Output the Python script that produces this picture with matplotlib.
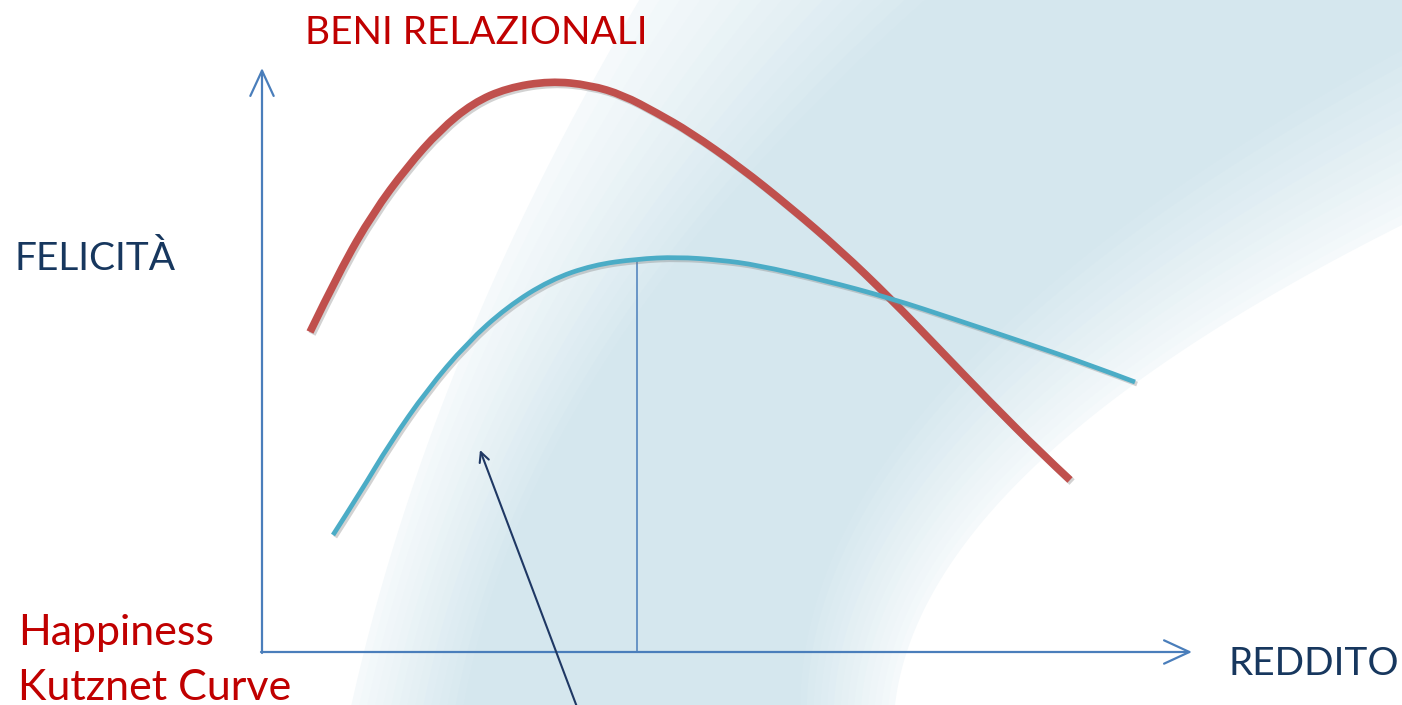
import numpy as np
import matplotlib.pyplot as plt
import matplotlib.patheffects as pe
from matplotlib.path import Path
from matplotlib.patches import PathPatch

# Curve "BENI RELAZIONALI" (rossa)
red_x = [310, 340, 373, 407, 440, 473, 507, 550, 590, 623, 657, 690, 740, 790, 840, 890, 940, 990, 1040, 1070]
red_y = [332, 270, 213, 167, 130, 103, 88, 81, 85, 95, 113, 132, 167, 207, 250, 298, 350, 402, 452, 480]

# Happiness Kutznet Curve (azzurra)
blue_x = [333, 360, 390, 427, 467, 507, 550, 593, 637, 677, 720, 757, 823, 890, 957, 1023, 1090, 1135]
blue_y = [535, 493, 443, 390, 343, 307, 280, 265, 259, 257, 260, 265, 280, 298, 320, 342, 365, 382]

# picco della curva azzurra
peak_x = 637
peak_y = 259

# origine e fine degli assi
orig = (262, 652)
x_end = 1192
y_end = 68


def bordo(pts):
    ys = np.array([p[1] for p in pts])
    xs = np.array([p[0] for p in pts])
    return np.poly1d(np.polyfit(ys, xs, 2))


def curva(xs, ys):
    # percorso liscio (bezier quadratiche) con i punti letti come controlli
    pts = list(zip(xs, ys))
    verts = [pts[0]]
    codes = [Path.MOVETO]
    for i in range(1, len(pts) - 2):
        mid = ((pts[i][0] + pts[i + 1][0]) / 2, (pts[i][1] + pts[i + 1][1]) / 2)
        verts += [pts[i], mid]
        codes += [Path.CURVE3, Path.CURVE3]
    verts += [pts[-2], pts[-1]]
    codes += [Path.CURVE3, Path.CURVE3]
    return Path(verts, codes)


# Sfondo ad archi (decorazione della slide)
faint_l = bordo([(640, 0), (510, 240), (395, 550), (350, 705)])
dark_l = bordo([(930, 0), (680, 240), (525, 550), (455, 705)])
arc_a = bordo([(1402, 50), (1000, 330), (800, 705)])
arc_c = bordo([(1402, 225), (1133, 385), (895, 705)])

fig = plt.figure(figsize=(14.02, 7.05), dpi=100)
ax = fig.add_axes([0, 0, 1, 1])
ax.set_xlim(0, 1402)
ax.set_ylim(705, 0)
ax.axis('off')

yy = np.linspace(0, 705, 500)
bianco = np.array([1.0, 1.0, 1.0])
scuro = np.array([213, 231, 238]) / 255
n = 14
for k in range(n + 1):
    t = k / n
    c = bianco * (1 - (0.25 + 0.75 * t)) + scuro * (0.25 + 0.75 * t)
    left = faint_l(yy) + t * (dark_l(yy) - faint_l(yy))
    right = arc_c(yy) + t * (arc_a(yy) - arc_c(yy))
    ax.fill_betweenx(yy, left, np.maximum(right, left), color=c, lw=0, zorder=0)

# Assi con freccia
axis_col = '#4a7ebb'
ax.annotate('', xy=(x_end, orig[1]), xytext=(orig[0] - 1, orig[1]),
            arrowprops=dict(arrowstyle='->,head_length=1.3,head_width=0.6', color=axis_col, lw=1.6,
                            shrinkA=0, shrinkB=0, mutation_scale=14), zorder=3)
ax.annotate('', xy=(orig[0], y_end), xytext=(orig[0], orig[1] + 1),
            arrowprops=dict(arrowstyle='->,head_length=1.3,head_width=0.6', color=axis_col, lw=1.6,
                            shrinkA=0, shrinkB=0, mutation_scale=14), zorder=3)

# Linea verticale dal picco
ax.plot([peak_x, peak_x], [peak_y, orig[1]], color=axis_col, lw=1.1, zorder=3)

ombra = [pe.SimpleLineShadow(offset=(1.5, -1.5), shadow_color='gray', alpha=0.35), pe.Normal()]
ax.add_patch(PathPatch(curva(red_x, red_y), fill=False, edgecolor='#c0504d', lw=5.5,
                       capstyle='butt', path_effects=ombra, zorder=4))
ax.add_patch(PathPatch(curva(blue_x, blue_y), fill=False, edgecolor='#4bacc6', lw=3.4,
                       capstyle='butt', path_effects=ombra, zorder=5))

# freccia scura che indica la curva
ax.annotate('', xy=(480, 450), xytext=(580, 715),
            arrowprops=dict(arrowstyle='->,head_length=0.5,head_width=0.25', color='#1f3864', lw=1.5,
                            shrinkA=0, shrinkB=0, mutation_scale=14), zorder=6)

# Testi
fnt = 'Lato'
ax.text(305, 44, 'BENI RELAZIONALI', color='#c00000', fontsize=28, family=fnt, va='baseline', ha='left')
ax.text(15, 270, 'FELICITÀ', color='#17375e', fontsize=28, family=fnt, va='baseline', ha='left')
ax.text(1228, 675, 'REDDITO', color='#17375e', fontsize=28, family=fnt, va='baseline', ha='left')
ax.text(18, 645, 'Happiness', color='#c00000', fontsize=31, family=fnt, va='baseline', ha='left')
ax.text(18, 700, 'Kutznet Curve', color='#c00000', fontsize=31, family=fnt, va='baseline', ha='left')

fig.savefig('out.png', dpi=100)
